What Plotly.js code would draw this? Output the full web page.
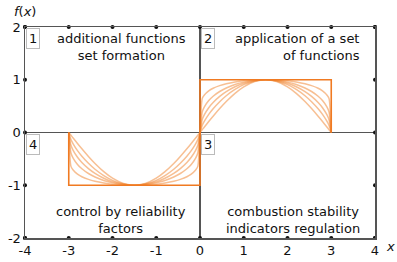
<!DOCTYPE html>
<html><head><meta charset="utf-8">
<script src="https://cdn.plot.ly/plotly-3.0.1.min.js"></script>
<style>html,body{margin:0;padding:0;background:#fff}#chart{width:397px;height:262px}</style>
</head><body><div id="chart"></div>
<script>
// sample x positions
var xs = [-3,-2.95,-2.9,-2.8,-2.7,-2.55,-2.4,-2.2,-2,-1.75,-1.5,-1.25,-1,-0.8,-0.6,-0.45,-0.3,-0.2,-0.1,-0.05,0,
          0.05,0.1,0.2,0.3,0.45,0.6,0.8,1,1.25,1.5,1.75,2,2.2,2.4,2.55,2.7,2.8,2.9,2.95,3];
// smooth curves, softest to squarest
var curveA = [0,-0.052,-0.105,-0.208,-0.309,-0.454,-0.588,-0.743,-0.866,-0.966,-1,-0.966,-0.866,-0.743,-0.588,-0.454,-0.309,-0.208,-0.105,-0.052,0,
              0.052,0.105,0.208,0.309,0.454,0.588,0.743,0.866,0.966,1,0.966,0.866,0.743,0.588,0.454,0.309,0.208,0.105,0.052,0];
var curveB = [0,-0.134,-0.215,-0.344,-0.450,-0.584,-0.697,-0.817,-0.907,-0.977,-1,-0.977,-0.907,-0.817,-0.697,-0.584,-0.450,-0.344,-0.215,-0.134,0,
              0.134,0.215,0.344,0.450,0.584,0.697,0.817,0.907,0.977,1,0.977,0.907,0.817,0.697,0.584,0.450,0.344,0.215,0.134,0];
var curveC = [0,-0.243,-0.338,-0.470,-0.569,-0.685,-0.775,-0.867,-0.933,-0.983,-1,-0.983,-0.933,-0.867,-0.775,-0.685,-0.569,-0.470,-0.338,-0.243,0,
              0.243,0.338,0.470,0.569,0.685,0.775,0.867,0.933,0.983,1,0.983,0.933,0.867,0.775,0.685,0.569,0.470,0.338,0.243,0];
var curveD = [0,-0.389,-0.485,-0.605,-0.687,-0.777,-0.844,-0.909,-0.955,-0.989,-1,-0.989,-0.955,-0.909,-0.844,-0.777,-0.687,-0.605,-0.485,-0.389,0,
              0.389,0.485,0.605,0.687,0.777,0.844,0.909,0.955,0.989,1,0.989,0.955,0.909,0.844,0.777,0.687,0.605,0.485,0.389,0];
var curveE = [0,-0.642,-0.712,-0.790,-0.839,-0.888,-0.923,-0.956,-0.979,-0.995,-1,-0.995,-0.979,-0.956,-0.923,-0.888,-0.839,-0.790,-0.712,-0.642,0,
              0.642,0.712,0.790,0.839,0.888,0.923,0.956,0.979,0.995,1,0.995,0.979,0.956,0.923,0.888,0.839,0.790,0.712,0.642,0];
// square wave
var sqX = [-3,-3,0,0,3,3];
var sqY = [0,-1,-1,1,1,0];
// ticks
var xTicks = [-4,-3,-2,-1,0,1,2,3,4];
var xTickText = ['-4','-3','-2','-1','0','1','2','3','4'];
var yTicks = [-2,-1,0,1,2];
var yTickText = ['-2','-1','0','1','2'];
// quadrant labels
var quadNums = ['1','2','3','4'];
var quadText = ['additional functions<br>set formation','application of a set<br>of functions',
                'combustion stability<br>indicators regulation','control by reliability<br>factors'];

var FONT = 'DejaVu Sans, Verdana, sans-serif';
var soft = 'rgba(240,128,40,0.5)';
var traces = [];
[curveA,curveB,curveC,curveD,curveE].forEach(function(c){
  traces.push({x:xs,y:c,mode:'lines',line:{color:soft,width:1.5,shape:'spline',smoothing:0.6},hoverinfo:'skip'});
});
traces.push({x:sqX,y:sqY,mode:'lines',line:{color:'#f07a22',width:1.6},hoverinfo:'skip'});
// border dots
var dx=[],dy=[];
xTicks.forEach(function(t){dx.push(t);dy.push(yTicks[0]);dx.push(t);dy.push(yTicks[yTicks.length-1]);});
yTicks.forEach(function(t){dx.push(xTicks[0]);dy.push(t);dx.push(xTicks[xTicks.length-1]);dy.push(t);});
traces.push({x:dx,y:dy,mode:'markers',marker:{color:'#111',size:4},cliponaxis:false,hoverinfo:'skip'});

var anns = [];
var boxPos = [[0,1],[0.5,1],[0.5,0.5],[0,0.5]];
quadNums.forEach(function(n,i){
  anns.push({xref:'paper',yref:'paper',x:boxPos[i][0],y:boxPos[i][1],xanchor:'left',yanchor:'top',
    text:n,showarrow:false,font:{family:FONT,size:13,color:'#111'},bgcolor:'#fff',bordercolor:'#bbb',borderwidth:1,borderpad:2,
    xshift:1,yshift:-1});
});
var tf = {family:FONT,size:13,color:'#111'};
anns.push({x:-1.8,y:1.63,text:quadText[0],showarrow:false,font:tf,align:'center'});
anns.push({x:3.7,xanchor:'right',y:1.63,text:quadText[1],showarrow:false,font:tf,align:'right'});
anns.push({x:2.13,y:-1.66,text:quadText[2],showarrow:false,font:tf,align:'center'});
anns.push({x:-1.8,y:-1.66,text:quadText[3],showarrow:false,font:tf,align:'center'});
anns.push({xref:'paper',yref:'paper',x:0,y:1,xshift:-13,yshift:25,xanchor:'left',yanchor:'top',text:'<i>f</i>(<i>x</i>)',showarrow:false,font:tf});
anns.push({xref:'paper',yref:'paper',x:1,y:0,xshift:9,yshift:1,xanchor:'left',yanchor:'top',text:'<i>x</i>',showarrow:false,font:tf});

var layout = {
  width:397,height:262,margin:{l:25,r:22,t:27,b:24},
  paper_bgcolor:'#fff',plot_bgcolor:'#fff',showlegend:false,
  xaxis:{range:[-4,4],tickvals:xTicks,ticktext:xTickText,ticks:'',showgrid:false,zeroline:true,zerolinecolor:'#555',zerolinewidth:1.5,
         showline:true,mirror:true,linecolor:'#555',linewidth:1.5,tickfont:tf,fixedrange:true},
  yaxis:{range:[-2,2],tickvals:yTicks,ticktext:yTickText,ticks:'',showgrid:false,zeroline:true,zerolinecolor:'#555',zerolinewidth:1.5,
         showline:true,mirror:true,linecolor:'#555',linewidth:1.5,tickfont:tf,fixedrange:true},
  annotations:anns
};
Plotly.newPlot('chart',traces,layout,{displayModeBar:false,staticPlot:true});
</script></body></html>
